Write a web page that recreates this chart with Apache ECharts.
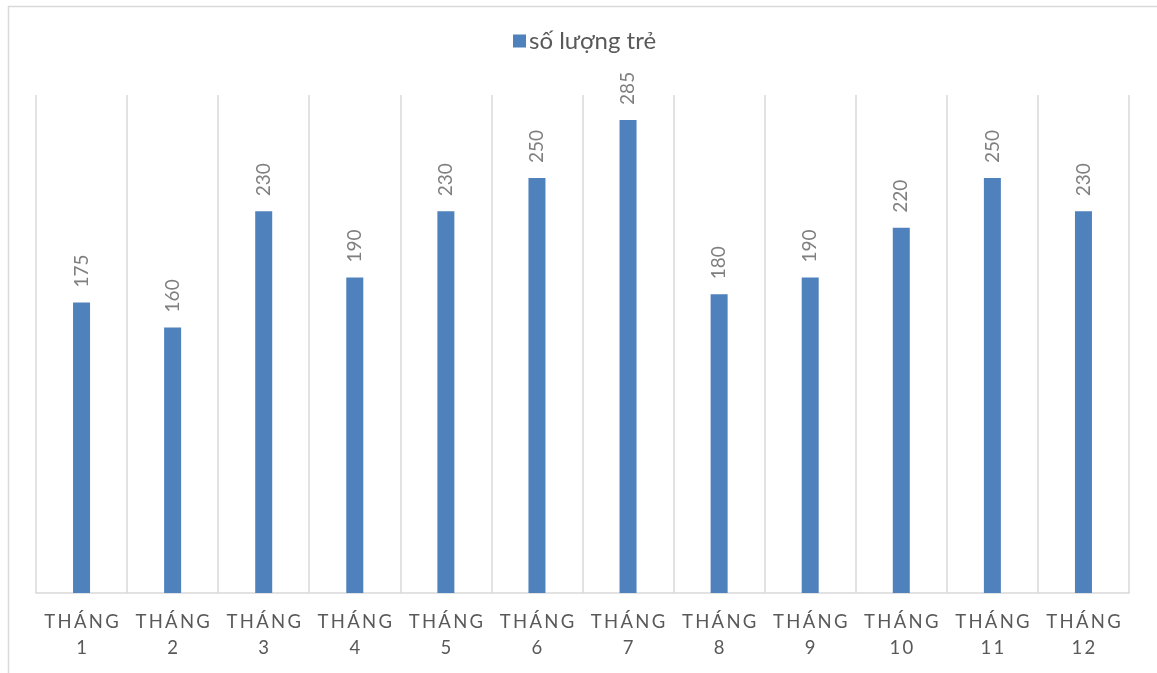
<!DOCTYPE html>
<html>
<head>
<meta charset="utf-8">
<script src="https://cdn.jsdelivr.net/npm/echarts@6/dist/echarts.min.js"></script>
<style>
  html, body { margin: 0; padding: 0; background: #ffffff; }
  #chart { width: 1157px; height: 673px; }
</style>
</head>
<body>
<div id="chart"></div>
<script>
// Monthly child counts
const months = ['THÁNG 1', 'THÁNG 2', 'THÁNG 3', 'THÁNG 4', 'THÁNG 5', 'THÁNG 6',
                'THÁNG 7', 'THÁNG 8', 'THÁNG 9', 'THÁNG 10', 'THÁNG 11', 'THÁNG 12'];
const childCounts = [175, 160, 230, 190, 230, 250, 285, 180, 190, 220, 250, 230];
const seriesName = 'số lượng trẻ';

const FONT = 'Lato, "Noto Sans", sans-serif';
const THIN = '\u2009';

// Spread letters apart ("T H Á N G") and put the month number on a second line
function spaced(s) { return Array.from(s).join(THIN); }
function monthLabel(v) {
  const parts = v.split(' ');
  return spaced(parts[0]) + '\n' + spaced(parts[1]);
}

const chart = echarts.init(document.getElementById('chart'), null, { renderer: 'canvas' });

chart.setOption({
  animation: false,
  backgroundColor: '#ffffff',
  graphic: [{
    type: 'rect',
    left: 6, top: 4,
    shape: { width: 1300, height: 800 },
    style: { fill: 'none', stroke: '#d9d9d9', lineWidth: 1.5 },
    z: -1
  }],
  legend: {
    data: [seriesName],
    left: 513,
    top: 29,
    padding: 0,
    itemWidth: 13,
    itemHeight: 13,
    itemGap: 4,
    icon: 'rect',
    textStyle: { fontFamily: FONT, fontSize: 24, color: '#595959', padding: [0, 0, 0, -2] }
  },
  grid: { left: 36, right: 28, top: 95, bottom: 80, containLabel: false },
  xAxis: {
    type: 'category',
    data: months,
    boundaryGap: true,
    axisLine: { show: true, lineStyle: { color: '#d9d9d9', width: 1.5 } },
    axisTick: { show: false },
    splitLine: { show: true, interval: 0, lineStyle: { color: '#d9d9d9', width: 1.5 } },
    axisLabel: {
      interval: 0,
      margin: 16,
      fontFamily: FONT,
      fontSize: 18.5,
      lineHeight: 26,
      color: '#595959',
      formatter: monthLabel
    }
  },
  yAxis: {
    type: 'value',
    min: 0,
    max: 300,
    show: false,
    splitLine: { show: false }
  },
  series: [{
    name: seriesName,
    type: 'bar',
    data: childCounts,
    barWidth: 17,
    itemStyle: { color: '#4f81bd' },
    label: {
      show: true,
      position: 'top',
      distance: 15,
      rotate: 90,
      align: 'left',
      verticalAlign: 'middle',
      fontFamily: FONT,
      fontSize: 19,
      color: '#7f7f7f'
    }
  }]
});
</script>
</body>
</html>
